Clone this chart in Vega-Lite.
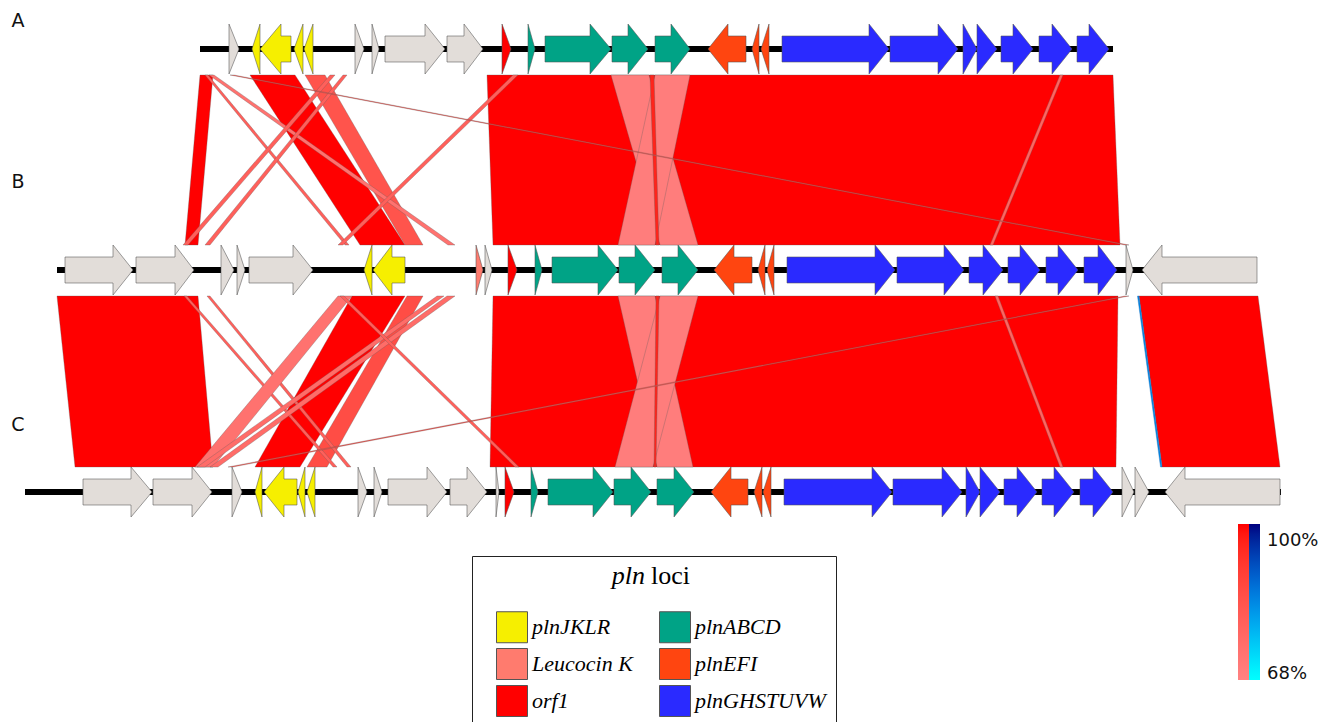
{
"$schema": "https://vega.github.io/schema/vega-lite/v6.json",
"width": 1332, "height": 722, "autosize": {"type": "none"}, "padding": 0,
"background": "white",
"config": {"view": {"stroke": null}},
"datasets": {
"gv": [
{"g":"A1","x":229,"y":24,"y2":74},{"g":"A1","x":239,"y":49,"y2":49},
{"g":"A2","x":252,"y":49,"y2":49},{"g":"A2","x":260,"y":24,"y2":74},
{"g":"A3","x":260,"y":49,"y2":49},{"g":"A3","x":281,"y":24,"y2":74},{"g":"A3","x":281,"y":36,"y2":62},{"g":"A3","x":291,"y":36,"y2":62},
{"g":"A4","x":294,"y":49,"y2":49},{"g":"A4","x":303,"y":24,"y2":74},
{"g":"A5","x":304,"y":49,"y2":49},{"g":"A5","x":313,"y":24,"y2":74},
{"g":"A6","x":355,"y":24,"y2":74},{"g":"A6","x":364,"y":49,"y2":49},
{"g":"A7","x":372,"y":24,"y2":74},{"g":"A7","x":379,"y":49,"y2":49},
{"g":"A8","x":385,"y":36,"y2":62},{"g":"A8","x":425,"y":36,"y2":62},{"g":"A8","x":425,"y":24,"y2":74},{"g":"A8","x":445,"y":49,"y2":49},
{"g":"A9","x":447,"y":36,"y2":62},{"g":"A9","x":464,"y":36,"y2":62},{"g":"A9","x":464,"y":24,"y2":74},{"g":"A9","x":483,"y":49,"y2":49},
{"g":"A10","x":502,"y":24,"y2":74},{"g":"A10","x":511,"y":49,"y2":49},
{"g":"A11","x":528,"y":24,"y2":74},{"g":"A11","x":535,"y":49,"y2":49},
{"g":"A12","x":545,"y":36,"y2":62},{"g":"A12","x":590,"y":36,"y2":62},{"g":"A12","x":590,"y":24,"y2":74},{"g":"A12","x":611,"y":49,"y2":49},
{"g":"A13","x":612,"y":36,"y2":62},{"g":"A13","x":628,"y":36,"y2":62},{"g":"A13","x":628,"y":24,"y2":74},{"g":"A13","x":648,"y":49,"y2":49},
{"g":"A14","x":655,"y":36,"y2":62},{"g":"A14","x":671,"y":36,"y2":62},{"g":"A14","x":671,"y":24,"y2":74},{"g":"A14","x":690,"y":49,"y2":49},
{"g":"A15","x":708,"y":49,"y2":49},{"g":"A15","x":728,"y":24,"y2":74},{"g":"A15","x":728,"y":36,"y2":62},{"g":"A15","x":746,"y":36,"y2":62},
{"g":"A16","x":752,"y":49,"y2":49},{"g":"A16","x":759,"y":24,"y2":74},
{"g":"A17","x":761,"y":49,"y2":49},{"g":"A17","x":769,"y":24,"y2":74},
{"g":"A18","x":782,"y":36,"y2":62},{"g":"A18","x":869,"y":36,"y2":62},{"g":"A18","x":869,"y":24,"y2":74},{"g":"A18","x":889,"y":49,"y2":49},
{"g":"A19","x":890,"y":36,"y2":62},{"g":"A19","x":938,"y":36,"y2":62},{"g":"A19","x":938,"y":24,"y2":74},{"g":"A19","x":958,"y":49,"y2":49},
{"g":"A20","x":963,"y":24,"y2":74},{"g":"A20","x":977,"y":49,"y2":49},
{"g":"A21","x":977,"y":24,"y2":74},{"g":"A21","x":997,"y":49,"y2":49},
{"g":"A22","x":1001,"y":36,"y2":62},{"g":"A22","x":1013,"y":36,"y2":62},{"g":"A22","x":1013,"y":24,"y2":74},{"g":"A22","x":1033,"y":49,"y2":49},
{"g":"A23","x":1039,"y":36,"y2":62},{"g":"A23","x":1052,"y":36,"y2":62},{"g":"A23","x":1052,"y":24,"y2":74},{"g":"A23","x":1072,"y":49,"y2":49},
{"g":"A24","x":1077,"y":36,"y2":62},{"g":"A24","x":1089,"y":36,"y2":62},{"g":"A24","x":1089,"y":24,"y2":74},{"g":"A24","x":1109,"y":49,"y2":49},

{"g":"B1","x":65,"y":257,"y2":283},{"g":"B1","x":113,"y":257,"y2":283},{"g":"B1","x":113,"y":245,"y2":295},{"g":"B1","x":133,"y":270,"y2":270},
{"g":"B2","x":136,"y":257,"y2":283},{"g":"B2","x":175,"y":257,"y2":283},{"g":"B2","x":175,"y":245,"y2":295},{"g":"B2","x":194,"y":270,"y2":270},
{"g":"B3","x":221,"y":245,"y2":295},{"g":"B3","x":234,"y":270,"y2":270},
{"g":"B4","x":237,"y":245,"y2":295},{"g":"B4","x":245,"y":270,"y2":270},
{"g":"B5","x":249,"y":257,"y2":283},{"g":"B5","x":293,"y":257,"y2":283},{"g":"B5","x":293,"y":245,"y2":295},{"g":"B5","x":313,"y":270,"y2":270},
{"g":"B6","x":364,"y":270,"y2":270},{"g":"B6","x":372,"y":245,"y2":295},
{"g":"B7","x":373,"y":270,"y2":270},{"g":"B7","x":392,"y":245,"y2":295},{"g":"B7","x":392,"y":257,"y2":283},{"g":"B7","x":405,"y":257,"y2":283},
{"g":"B8","x":476,"y":245,"y2":295},{"g":"B8","x":483,"y":270,"y2":270},
{"g":"B9","x":485,"y":245,"y2":295},{"g":"B9","x":492,"y":270,"y2":270},
{"g":"B10","x":508,"y":245,"y2":295},{"g":"B10","x":517,"y":270,"y2":270},
{"g":"B11","x":535,"y":245,"y2":295},{"g":"B11","x":542,"y":270,"y2":270},
{"g":"B12","x":552,"y":257,"y2":283},{"g":"B12","x":598,"y":257,"y2":283},{"g":"B12","x":598,"y":245,"y2":295},{"g":"B12","x":618,"y":270,"y2":270},
{"g":"B13","x":619,"y":257,"y2":283},{"g":"B13","x":635,"y":257,"y2":283},{"g":"B13","x":635,"y":245,"y2":295},{"g":"B13","x":655,"y":270,"y2":270},
{"g":"B14","x":662,"y":257,"y2":283},{"g":"B14","x":678,"y":257,"y2":283},{"g":"B14","x":678,"y":245,"y2":295},{"g":"B14","x":698,"y":270,"y2":270},
{"g":"B15","x":714,"y":270,"y2":270},{"g":"B15","x":734,"y":245,"y2":295},{"g":"B15","x":734,"y":257,"y2":283},{"g":"B15","x":752,"y":257,"y2":283},
{"g":"B16","x":758,"y":270,"y2":270},{"g":"B16","x":765,"y":245,"y2":295},
{"g":"B17","x":767,"y":270,"y2":270},{"g":"B17","x":774,"y":245,"y2":295},
{"g":"B18","x":787,"y":257,"y2":283},{"g":"B18","x":875,"y":257,"y2":283},{"g":"B18","x":875,"y":245,"y2":295},{"g":"B18","x":895,"y":270,"y2":270},
{"g":"B19","x":897,"y":257,"y2":283},{"g":"B19","x":944,"y":257,"y2":283},{"g":"B19","x":944,"y":245,"y2":295},{"g":"B19","x":964,"y":270,"y2":270},
{"g":"B20","x":969,"y":257,"y2":283},{"g":"B20","x":983,"y":257,"y2":283},{"g":"B20","x":983,"y":245,"y2":295},{"g":"B20","x":1003,"y":270,"y2":270},
{"g":"B21","x":1008,"y":257,"y2":283},{"g":"B21","x":1020,"y":257,"y2":283},{"g":"B21","x":1020,"y":245,"y2":295},{"g":"B21","x":1040,"y":270,"y2":270},
{"g":"B22","x":1046,"y":257,"y2":283},{"g":"B22","x":1058,"y":257,"y2":283},{"g":"B22","x":1058,"y":245,"y2":295},{"g":"B22","x":1078,"y":270,"y2":270},
{"g":"B23","x":1084,"y":257,"y2":283},{"g":"B23","x":1098,"y":257,"y2":283},{"g":"B23","x":1098,"y":245,"y2":295},{"g":"B23","x":1117,"y":270,"y2":270},
{"g":"B24","x":1126,"y":245,"y2":295},{"g":"B24","x":1133,"y":270,"y2":270},
{"g":"B25","x":1142,"y":270,"y2":270},{"g":"B25","x":1162,"y":245,"y2":295},{"g":"B25","x":1162,"y":257,"y2":283},{"g":"B25","x":1257,"y":257,"y2":283},

{"g":"C1","x":83,"y":479,"y2":505},{"g":"C1","x":131,"y":479,"y2":505},{"g":"C1","x":131,"y":467,"y2":517},{"g":"C1","x":152,"y":492,"y2":492},
{"g":"C2","x":153,"y":479,"y2":505},{"g":"C2","x":192,"y":479,"y2":505},{"g":"C2","x":192,"y":467,"y2":517},{"g":"C2","x":212,"y":492,"y2":492},
{"g":"C3","x":232,"y":467,"y2":517},{"g":"C3","x":242,"y":492,"y2":492},
{"g":"C4","x":255,"y":492,"y2":492},{"g":"C4","x":262,"y":467,"y2":517},
{"g":"C5","x":264,"y":492,"y2":492},{"g":"C5","x":284,"y":467,"y2":517},{"g":"C5","x":284,"y":479,"y2":505},{"g":"C5","x":297,"y":479,"y2":505},
{"g":"C6","x":298,"y":492,"y2":492},{"g":"C6","x":305,"y":467,"y2":517},
{"g":"C7","x":307,"y":492,"y2":492},{"g":"C7","x":315,"y":467,"y2":517},
{"g":"C8","x":358,"y":467,"y2":517},{"g":"C8","x":367,"y":492,"y2":492},
{"g":"C9","x":374,"y":467,"y2":517},{"g":"C9","x":382,"y":492,"y2":492},
{"g":"C10","x":388,"y":479,"y2":505},{"g":"C10","x":427,"y":479,"y2":505},{"g":"C10","x":427,"y":467,"y2":517},{"g":"C10","x":447,"y":492,"y2":492},
{"g":"C11","x":450,"y":479,"y2":505},{"g":"C11","x":467,"y":479,"y2":505},{"g":"C11","x":467,"y":467,"y2":517},{"g":"C11","x":487,"y":492,"y2":492},
{"g":"C12","x":496,"y":467,"y2":517},{"g":"C12","x":499,"y":492,"y2":492},
{"g":"C13","x":505,"y":467,"y2":517},{"g":"C13","x":514,"y":492,"y2":492},
{"g":"C14","x":531,"y":467,"y2":517},{"g":"C14","x":538,"y":492,"y2":492},
{"g":"C15","x":548,"y":479,"y2":505},{"g":"C15","x":593,"y":479,"y2":505},{"g":"C15","x":593,"y":467,"y2":517},{"g":"C15","x":613,"y":492,"y2":492},
{"g":"C16","x":614,"y":479,"y2":505},{"g":"C16","x":631,"y":479,"y2":505},{"g":"C16","x":631,"y":467,"y2":517},{"g":"C16","x":651,"y":492,"y2":492},
{"g":"C17","x":657,"y":479,"y2":505},{"g":"C17","x":674,"y":479,"y2":505},{"g":"C17","x":674,"y":467,"y2":517},{"g":"C17","x":694,"y":492,"y2":492},
{"g":"C18","x":711,"y":492,"y2":492},{"g":"C18","x":731,"y":467,"y2":517},{"g":"C18","x":731,"y":479,"y2":505},{"g":"C18","x":748,"y":479,"y2":505},
{"g":"C19","x":754,"y":492,"y2":492},{"g":"C19","x":762,"y":467,"y2":517},
{"g":"C20","x":763,"y":492,"y2":492},{"g":"C20","x":771,"y":467,"y2":517},
{"g":"C21","x":784,"y":479,"y2":505},{"g":"C21","x":872,"y":479,"y2":505},{"g":"C21","x":872,"y":467,"y2":517},{"g":"C21","x":892,"y":492,"y2":492},
{"g":"C22","x":893,"y":479,"y2":505},{"g":"C22","x":942,"y":479,"y2":505},{"g":"C22","x":942,"y":467,"y2":517},{"g":"C22","x":962,"y":492,"y2":492},
{"g":"C23","x":966,"y":467,"y2":517},{"g":"C23","x":980,"y":492,"y2":492},
{"g":"C24","x":980,"y":467,"y2":517},{"g":"C24","x":1000,"y":492,"y2":492},
{"g":"C25","x":1004,"y":479,"y2":505},{"g":"C25","x":1017,"y":479,"y2":505},{"g":"C25","x":1017,"y":467,"y2":517},{"g":"C25","x":1037,"y":492,"y2":492},
{"g":"C26","x":1042,"y":479,"y2":505},{"g":"C26","x":1054,"y":479,"y2":505},{"g":"C26","x":1054,"y":467,"y2":517},{"g":"C26","x":1074,"y":492,"y2":492},
{"g":"C27","x":1080,"y":479,"y2":505},{"g":"C27","x":1093,"y":479,"y2":505},{"g":"C27","x":1093,"y":467,"y2":517},{"g":"C27","x":1113,"y":492,"y2":492},
{"g":"C28","x":1122,"y":467,"y2":517},{"g":"C28","x":1134,"y":492,"y2":492},
{"g":"C29","x":1135,"y":467,"y2":517},{"g":"C29","x":1149,"y":492,"y2":492},
{"g":"C30","x":1165,"y":492,"y2":492},{"g":"C30","x":1185,"y":467,"y2":517},{"g":"C30","x":1185,"y":479,"y2":505},{"g":"C30","x":1280,"y":479,"y2":505}
],
"genes": [
{"g":"A1","f":"other"},{"g":"A2","f":"plnJKLR"},{"g":"A3","f":"plnJKLR"},{"g":"A4","f":"plnJKLR"},{"g":"A5","f":"plnJKLR"},
{"g":"A6","f":"other"},{"g":"A7","f":"other"},{"g":"A8","f":"other"},{"g":"A9","f":"other"},{"g":"A10","f":"orf1"},
{"g":"A11","f":"plnABCD"},{"g":"A12","f":"plnABCD"},{"g":"A13","f":"plnABCD"},{"g":"A14","f":"plnABCD"},
{"g":"A15","f":"plnEFI"},{"g":"A16","f":"plnEFI"},{"g":"A17","f":"plnEFI"},
{"g":"A18","f":"plnGHSTUVW"},{"g":"A19","f":"plnGHSTUVW"},{"g":"A20","f":"plnGHSTUVW"},{"g":"A21","f":"plnGHSTUVW"},{"g":"A22","f":"plnGHSTUVW"},{"g":"A23","f":"plnGHSTUVW"},{"g":"A24","f":"plnGHSTUVW"},
{"g":"B1","f":"other"},{"g":"B2","f":"other"},{"g":"B3","f":"other"},{"g":"B4","f":"other"},{"g":"B5","f":"other"},
{"g":"B6","f":"plnJKLR"},{"g":"B7","f":"plnJKLR"},{"g":"B8","f":"Leucocin K"},{"g":"B9","f":"other"},{"g":"B10","f":"orf1"},
{"g":"B11","f":"plnABCD"},{"g":"B12","f":"plnABCD"},{"g":"B13","f":"plnABCD"},{"g":"B14","f":"plnABCD"},
{"g":"B15","f":"plnEFI"},{"g":"B16","f":"plnEFI"},{"g":"B17","f":"plnEFI"},
{"g":"B18","f":"plnGHSTUVW"},{"g":"B19","f":"plnGHSTUVW"},{"g":"B20","f":"plnGHSTUVW"},{"g":"B21","f":"plnGHSTUVW"},{"g":"B22","f":"plnGHSTUVW"},{"g":"B23","f":"plnGHSTUVW"},
{"g":"B24","f":"other"},{"g":"B25","f":"other"},
{"g":"C1","f":"other"},{"g":"C2","f":"other"},{"g":"C3","f":"other"},
{"g":"C4","f":"plnJKLR"},{"g":"C5","f":"plnJKLR"},{"g":"C6","f":"plnJKLR"},{"g":"C7","f":"plnJKLR"},
{"g":"C8","f":"other"},{"g":"C9","f":"other"},{"g":"C10","f":"other"},{"g":"C11","f":"other"},{"g":"C12","f":"other"},{"g":"C13","f":"orf1"},
{"g":"C14","f":"plnABCD"},{"g":"C15","f":"plnABCD"},{"g":"C16","f":"plnABCD"},{"g":"C17","f":"plnABCD"},
{"g":"C18","f":"plnEFI"},{"g":"C19","f":"plnEFI"},{"g":"C20","f":"plnEFI"},
{"g":"C21","f":"plnGHSTUVW"},{"g":"C22","f":"plnGHSTUVW"},{"g":"C23","f":"plnGHSTUVW"},{"g":"C24","f":"plnGHSTUVW"},{"g":"C25","f":"plnGHSTUVW"},{"g":"C26","f":"plnGHSTUVW"},{"g":"C27","f":"plnGHSTUVW"},
{"g":"C28","f":"other"},{"g":"C29","f":"other"},{"g":"C30","f":"other"}
],
"rib": [
{"r":"AB1","y":75,"x":200,"x2":213,"id":100},{"r":"AB1","y":245,"x":185,"x2":198,"id":100},
{"r":"AB9","y":75,"x":487,"x2":652,"id":100},{"r":"AB9","y":245,"x":493,"x2":657,"id":100},
{"r":"AB13","y":75,"x":652,"x2":1113,"id":100},{"r":"AB13","y":245,"x":657,"x2":1120,"id":100},
{"r":"AB10","y":75,"x":611,"x2":649,"id":70},{"r":"AB10","y":245,"x":660,"x2":698,"id":70},
{"r":"AB11","y":75,"x":655,"x2":690,"id":70},{"r":"AB11","y":245,"x":618,"x2":655,"id":70},
{"r":"AB12","y":75,"x":650,"x2":654,"id":96},{"r":"AB12","y":245,"x":656,"x2":659,"id":96},
{"r":"AB3","y":75,"x":250,"x2":295,"id":100},{"r":"AB3","y":245,"x":360,"x2":405,"id":100},
{"r":"AB4","y":75,"x":305,"x2":325,"id":84},{"r":"AB4","y":245,"x":405,"x2":423,"id":84},
{"r":"AB2a","y":75,"x":205,"x2":208,"id":80},{"r":"AB2a","y":245,"x":345,"x2":349,"id":80},
{"r":"AB2b","y":75,"x":209,"x2":214,"id":74},{"r":"AB2b","y":245,"x":448,"x2":455,"id":74},
{"r":"AB6","y":75,"x":330,"x2":335,"id":80},{"r":"AB6","y":245,"x":183,"x2":188,"id":80},
{"r":"AB7","y":75,"x":343,"x2":347,"id":80},{"r":"AB7","y":245,"x":205,"x2":210,"id":80},
{"r":"AB8","y":75,"x":513,"x2":518,"id":80},{"r":"AB8","y":245,"x":338,"x2":343,"id":80},
{"r":"AB14","y":75,"x":1060,"x2":1063,"id":78},{"r":"AB14","y":245,"x":990,"x2":993,"id":78},
{"r":"AB5","y":75,"x":230,"x2":234,"id":85},{"r":"AB5","y":245,"x":1125,"x2":1129,"id":85},
{"r":"BC1","y":296,"x":57,"x2":198,"id":100},{"r":"BC1","y":467,"x":75,"x2":213,"id":100},
{"r":"BC10","y":296,"x":493,"x2":657,"id":100},{"r":"BC10","y":467,"x":490,"x2":655,"id":100},
{"r":"BC14","y":296,"x":657,"x2":1118,"id":100},{"r":"BC14","y":467,"x":655,"x2":1116,"id":100},
{"r":"BC16","y":296,"x":1139,"x2":1258,"id":100},{"r":"BC16","y":467,"x":1162,"x2":1280,"id":100},
{"r":"BC11","y":296,"x":618,"x2":655,"id":70},{"r":"BC11","y":467,"x":657,"x2":693,"id":70},
{"r":"BC12","y":296,"x":660,"x2":698,"id":70},{"r":"BC12","y":467,"x":615,"x2":653,"id":70},
{"r":"BC13","y":296,"x":656,"x2":659,"id":96},{"r":"BC13","y":467,"x":654,"x2":656,"id":96},
{"r":"BC5","y":296,"x":352,"x2":405,"id":100},{"r":"BC5","y":467,"x":255,"x2":300,"id":100},
{"r":"BC6","y":296,"x":407,"x2":423,"id":86},{"r":"BC6","y":467,"x":307,"x2":327,"id":86},
{"r":"BC2","y":296,"x":184,"x2":187,"id":80},{"r":"BC2","y":467,"x":333,"x2":337,"id":80},
{"r":"BC3","y":296,"x":207,"x2":210,"id":80},{"r":"BC3","y":467,"x":347,"x2":351,"id":80},
{"r":"BC4","y":296,"x":338,"x2":352,"id":74},{"r":"BC4","y":467,"x":195,"x2":213,"id":74},
{"r":"BC7a","y":296,"x":437,"x2":444,"id":76},{"r":"BC7a","y":467,"x":197,"x2":205,"id":76},
{"r":"BC7b","y":296,"x":447,"x2":455,"id":76},{"r":"BC7b","y":467,"x":210,"x2":218,"id":76},
{"r":"BC8","y":296,"x":340,"x2":344,"id":80},{"r":"BC8","y":467,"x":515,"x2":519,"id":80},
{"r":"BC15","y":296,"x":995,"x2":998,"id":78},{"r":"BC15","y":467,"x":1060,"x2":1063,"id":78},
{"r":"BC9","y":296,"x":1125,"x2":1129,"id":85},{"r":"BC9","y":467,"x":228,"x2":233,"id":85}
],
"inv": [
{"r":"BC17","y":296,"x":1137.5,"x2":1139,"id":84},{"r":"BC17","y":467,"x":1160.5,"x2":1162,"id":84}
],
"bb": [
{"trk":"A","y":49,"x":200,"x2":1113},{"trk":"B","y":270,"x":57,"x2":1257},{"trk":"C","y":492,"x":25,"x2":1281}
],
"lab": [
{"t":"A","x":18,"y":21},{"t":"B","x":18,"y":182},{"t":"C","x":18,"y":425}
]
},
"resolve": {"scale": {"color": "independent"}},
"layer": [
{
"data": {"name": "rib"},
"mark": {"type": "area", "orient": "horizontal", "stroke": "#5a5a5a", "strokeWidth": 0.5, "strokeOpacity": 0.6},
"encoding": {
"y": {"field": "y", "type": "quantitative", "scale": {"domain": [0, 722], "nice": false, "zero": false, "reverse": true}, "axis": null},
"x": {"field": "x", "type": "quantitative", "stack": null, "scale": {"domain": [0, 1332], "nice": false, "zero": false}, "axis": null},
"x2": {"field": "x2"},
"detail": {"field": "r"},
"color": {"field": "id", "type": "quantitative", "scale": {"domain": [68, 100], "range": ["#FF8282", "#FF0000"]},
"legend": {"orient": "none", "legendX": 1238, "legendY": 524, "direction": "vertical", "title": null, "labelExpr": "''", "labelOpacity": 0, "gradientLength": 156, "gradientThickness": 11, "gradientStrokeWidth": 0, "padding": 0}}
}
},
{
"data": {"name": "inv"},
"mark": {"type": "area", "orient": "horizontal", "stroke": "#1f6fc0", "strokeWidth": 0.4},
"encoding": {
"y": {"field": "y", "type": "quantitative", "scale": {"domain": [0, 722], "nice": false, "zero": false, "reverse": true}, "axis": null},
"x": {"field": "x", "type": "quantitative", "stack": null, "scale": {"domain": [0, 1332], "nice": false, "zero": false}, "axis": null},
"x2": {"field": "x2"},
"detail": {"field": "r"},
"color": {"field": "id", "type": "quantitative", "scale": {"domain": [68, 100], "range": ["#00FFFF", "#000080"]},
"legend": {"orient": "none", "legendX": 1249, "legendY": 524, "direction": "vertical", "title": null, "values": [69.2, 96.6], "labelExpr": "datum.value > 90 ? '100%' : '68%'", "labelBaseline": "middle", "labelFont": "DejaVu Sans", "labelFontSize": 18, "labelColor": "#111", "labelOffset": 7, "gradientLength": 156, "gradientThickness": 11, "gradientStrokeWidth": 0, "padding": 0}}
}
},
{
"data": {"name": "bb"},
"mark": {"type": "rule", "color": "black", "strokeWidth": 6, "strokeCap": "butt"},
"encoding": {
"y": {"field": "y", "type": "quantitative", "scale": {"domain": [0, 722], "nice": false, "zero": false, "reverse": true}, "axis": null},
"x": {"field": "x", "type": "quantitative", "scale": {"domain": [0, 1332], "nice": false, "zero": false}, "axis": null},
"x2": {"field": "x2"}
}
},
{
"data": {"name": "gv"},
"transform": [{"lookup": "g", "from": {"data": {"name": "genes"}, "key": "g", "fields": ["f"]}}],
"mark": {"type": "area", "orient": "vertical", "interpolate": "linear", "stroke": "#555555", "strokeWidth": 0.7, "strokeOpacity": 0.8, "fillOpacity": 1},
"encoding": {
"x": {"field": "x", "type": "quantitative", "scale": {"domain": [0, 1332], "nice": false, "zero": false}, "axis": null},
"y": {"field": "y", "type": "quantitative", "stack": null, "scale": {"domain": [0, 722], "nice": false, "zero": false, "reverse": true}, "axis": null},
"y2": {"field": "y2"},
"detail": {"field": "g"},
"order": {"value": null},
"color": {"field": "f", "type": "nominal",
"scale": {"domain": ["plnJKLR", "Leucocin K", "orf1", "plnABCD", "plnEFI", "plnGHSTUVW", "other"], "range": ["#F6EF00", "#FF7B6E", "#FF0000", "#00A386", "#FF4510", "#2A2AFF", "#E2DDD9"]},
"legend": {"orient": "none", "legendX": 472, "legendY": 556, "values": ["plnJKLR", "Leucocin K", "orf1", "plnABCD", "plnEFI", "plnGHSTUVW"], "columns": 2,
"title": "pln loci", "titleFont": "Liberation Serif", "titleFontSize": 26, "titleFontWeight": "normal", "titleColor": "rgba(0,0,0,0)", "titlePadding": 19,
"strokeColor": "#222222", "padding": 10,
"symbolType": "square", "symbolSize": 961, "symbolStrokeColor": "#555555", "symbolStrokeWidth": 1, "symbolOpacity": 1, "symbolOffset": 14,
"labelFont": "Liberation Serif", "labelFontStyle": "italic", "labelFontSize": 22, "labelColor": "black", "labelOffset": 4, "labelLimit": 300,
"rowPadding": 1, "columnPadding": 12}}
}
},
{
"data": {"name": "lab"},
"mark": {"type": "text", "font": "DejaVu Sans", "fontSize": 19, "color": "#111111", "align": "center", "baseline": "middle"},
"encoding": {
"x": {"field": "x", "type": "quantitative", "scale": {"domain": [0, 1332], "nice": false, "zero": false}, "axis": null},
"y": {"field": "y", "type": "quantitative", "scale": {"domain": [0, 722], "nice": false, "zero": false, "reverse": true}, "axis": null},
"text": {"field": "t"}
}
},
{
"data": {"values": [{"t": "pln", "x": 645, "y": 584}]},
"mark": {"type": "text", "font": "Liberation Serif", "fontSize": 26, "fontStyle": "italic", "color": "black", "align": "right", "baseline": "alphabetic"},
"encoding": {
"x": {"field": "x", "type": "quantitative", "scale": {"domain": [0, 1332], "nice": false, "zero": false}, "axis": null},
"y": {"field": "y", "type": "quantitative", "scale": {"domain": [0, 722], "nice": false, "zero": false, "reverse": true}, "axis": null},
"text": {"field": "t"}
}
},
{
"data": {"values": [{"t": "loci", "x": 651, "y": 584}]},
"mark": {"type": "text", "font": "Liberation Serif", "fontSize": 26, "color": "black", "align": "left", "baseline": "alphabetic"},
"encoding": {
"x": {"field": "x", "type": "quantitative", "scale": {"domain": [0, 1332], "nice": false, "zero": false}, "axis": null},
"y": {"field": "y", "type": "quantitative", "scale": {"domain": [0, 722], "nice": false, "zero": false, "reverse": true}, "axis": null},
"text": {"field": "t"}
}
}
]
}
